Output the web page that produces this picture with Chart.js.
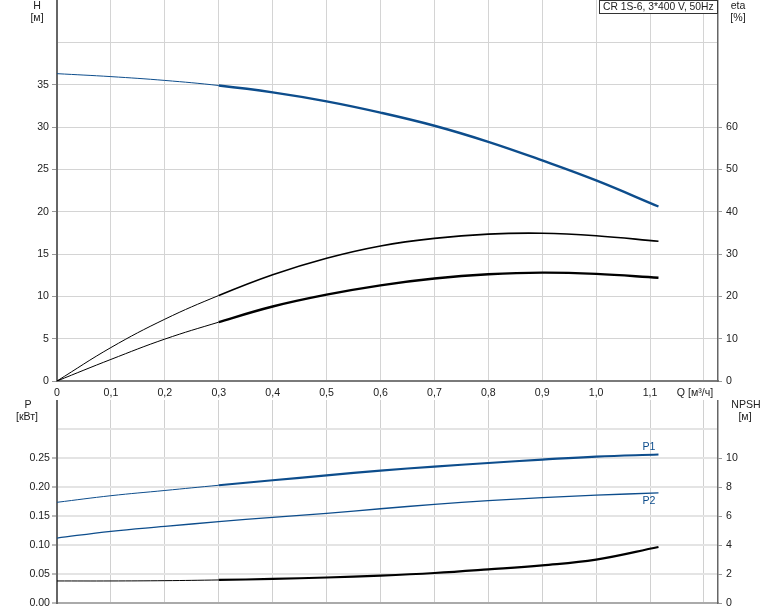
<!DOCTYPE html>
<html><head><meta charset="utf-8">
<script src="https://cdn.jsdelivr.net/npm/chart.js@4.4.1/dist/chart.umd.min.js"></script>
<style>
html,body{margin:0;padding:0;background:#fff;}
#wrap{position:relative;width:774px;height:611px;overflow:hidden;background:#fff;}
#c1{position:absolute;left:0;top:0;}
#c2{position:absolute;left:0;top:400px;}
</style></head><body>
<div id="wrap"><canvas id="c1" width="774" height="400"></canvas><canvas id="c2" width="774" height="211"></canvas></div>
<script>
// ---- data ----
const Q      = [0, 0.1, 0.2, 0.3, 0.4, 0.5, 0.6, 0.7, 0.8, 0.9, 1.0, 1.1156];
const H      = [36.3, 35.95, 35.5, 34.9, 34.09, 33.03, 31.7, 30.15, 28.25, 26.05, 23.69, 20.61];
const ETA    = [0, 7.9, 14.6, 20.2, 25.1, 29.0, 31.9, 33.7, 34.7, 34.9, 34.3, 33.0];
const ETA_T  = [0, 5.1, 9.9, 13.9, 17.6, 20.4, 22.6, 24.2, 25.2, 25.6, 25.3, 24.4];
const P1     = [0.1736, 0.185, 0.194, 0.203, 0.2116, 0.2200, 0.2283, 0.2352, 0.2414, 0.2472, 0.2524, 0.256];
const P2     = [0.112, 0.1236, 0.132, 0.1403, 0.1478, 0.1547, 0.1625, 0.1700, 0.1765, 0.1817, 0.186, 0.1897];
const NPSH   = [1.52, 1.52, 1.54, 1.59, 1.66, 1.76, 1.89, 2.07, 2.32, 2.6, 2.99, 3.86];
const Q_TICKS_MAX_LABEL = 1.1;
const H_LABEL_MAX = 35, ETA_LABEL_MAX = 60, P_LABEL_MAX = 0.25, NPSH_LABEL_MAX = 10;
const TITLE = 'CR 1S-6, 3*400 V, 50Hz';

const FONT = "'Liberation Sans', Arial, sans-serif";
Chart.defaults.font.family = FONT;
Chart.defaults.font.size = 10.6;
Chart.defaults.color = '#222';

const BLUE = '#0d4d8c';
const pts = arr => Q.map((q, i) => ({x: q, y: arr[i]}));
const seg = (thin, thick) => ({ borderWidth: c => c.p0.parsed.x < 0.299 ? thin : thick });
const fixW = w => s => { s.width = w; s.paddingTop = 0; s.paddingBottom = 0; };
const fixH = h => s => { s.height = h; s.paddingLeft = 0; s.paddingRight = 0; };
const qLabel = v => {
  if (Math.abs(v) < 1e-9) return '0';
  if (v > Q_TICKS_MAX_LABEL + 1e-6) return '';
  return v.toFixed(1).replace('.', ',');
};
const line = (data, color, axis, thin, thick) => ({
  data, borderColor: color, yAxisID: axis, pointRadius: 0, borderWidth: thick,
  tension: 0.4, fill: false, segment: seg(thin, thick)
});

function textPlugin(items) {
  return {
    id: 'texts',
    afterDraw(chart) {
      const ctx = chart.ctx;
      ctx.save();
      ctx.textBaseline = 'middle';
      for (const t of items) {
        if (t.box) {
          ctx.fillStyle = '#fff';
          ctx.fillRect(t.box[0], t.box[1], t.box[2], t.box[3]);
          ctx.strokeStyle = '#333';
          ctx.lineWidth = 1;
          ctx.strokeRect(t.box[0] + 0.5, t.box[1] + 0.5, t.box[2] - 1, t.box[3] - 1);
        }
        ctx.font = (t.size || 10.6) + 'px ' + FONT;
        ctx.fillStyle = t.color || '#222';
        ctx.textAlign = t.align || 'center';
        ctx.fillText(t.text, t.x, t.y);
      }
      ctx.restore();
    }
  };
}

const hide = (limit) => c => (c.tick && c.tick.value > limit + 1e-9) ? 'rgba(0,0,0,0)' : '#999';

new Chart(document.getElementById('c1'), {
  type: 'line',
  data: { datasets: [
    line(pts(H), BLUE, 'y', 1, 2.4),
    line(pts(ETA), '#000', 'y2', 1, 1.6),
    line(pts(ETA_T), '#000', 'y2', 1, 2.4)
  ]},
  options: {
    responsive: false, animation: false, devicePixelRatio: 1,
    layout: { padding: 0 },
    plugins: { legend: { display: false }, tooltip: { enabled: false } },
    scales: {
      x: { type: 'linear', min: 0, max: 1.226,
        ticks: { stepSize: 0.1, includeBounds: false, autoSkip: false, maxRotation: 0, padding: 6, callback: qLabel, color: '#222' },
        grid: { color: '#d4d4d4', drawTicks: false },
        border: { color: '#7a7a7a', width: 2 },
        afterFit: fixH(19) },
      y: { position: 'left', min: 0, max: 45,
        ticks: { stepSize: 5, includeBounds: false, padding: 3, color: '#222', callback: v => v <= H_LABEL_MAX ? String(v) : '' },
        grid: { color: c => c.tick && c.tick.value >= 45 ? 'rgba(0,0,0,0)' : '#d4d4d4', tickLength: 5, tickColor: hide(H_LABEL_MAX) },
        border: { color: '#666', width: 2 },
        afterFit: fixW(57) },
      y2: { position: 'right', min: 0, max: 90,
        ticks: { stepSize: 10, includeBounds: false, padding: 4, color: '#222', callback: v => v <= ETA_LABEL_MAX ? String(v) : '' },
        grid: { drawOnChartArea: false, tickLength: 4, tickColor: hide(ETA_LABEL_MAX) },
        border: { color: '#666', width: 1.5 },
        afterFit: fixW(56) }
    }
  },
  plugins: [textPlugin([
    { text: 'H', x: 37, y: 6 },
    { text: '[м]', x: 37, y: 18 },
    { text: 'eta', x: 738, y: 6 },
    { text: '[%]', x: 738, y: 18 },
    { text: 'Q [м³/ч]', x: 695, y: 393 },
    { text: TITLE, x: 603, y: 7, align: 'left', size: 10.3, box: [599, 0, 119, 14] }
  ])]
});

new Chart(document.getElementById('c2'), {
  type: 'line',
  data: { datasets: [
    line(pts(P1), BLUE, 'y', 1, 2.2),
    line(pts(P2), BLUE, 'y', 1.3, 1.3),
    line(pts(NPSH), '#000', 'y2', 1, 2.2)
  ]},
  options: {
    responsive: false, animation: false, devicePixelRatio: 1,
    layout: { padding: 0 },
    plugins: { legend: { display: false }, tooltip: { enabled: false } },
    scales: {
      x: { type: 'linear', min: 0, max: 1.226,
        ticks: { stepSize: 0.1, includeBounds: false, display: false },
        grid: { color: '#d0d0d0', drawTicks: false },
        border: { color: '#aaa', width: 2 },
        afterFit: fixH(8) },
      y: { position: 'left', min: 0, max: 0.35,
        ticks: { stepSize: 0.05, includeBounds: false, padding: 2, color: '#222', callback: v => v <= P_LABEL_MAX + 1e-9 ? v.toFixed(2) : '' },
        grid: { color: c => c.tick && c.tick.value > 0.33 ? 'rgba(0,0,0,0)' : '#e4e4e4', lineWidth: 2, tickLength: 5, tickColor: c => (c.tick && c.tick.value > P_LABEL_MAX + 1e-9) ? 'rgba(0,0,0,0)' : '#bbb' },
        border: { color: '#666', width: 2 },
        afterFit: fixW(57) },
      y2: { position: 'right', min: 0, max: 14,
        ticks: { stepSize: 2, includeBounds: false, padding: 4, color: '#222', callback: v => v <= NPSH_LABEL_MAX ? String(v) : '' },
        grid: { drawOnChartArea: false, tickLength: 4, tickColor: hide(NPSH_LABEL_MAX) },
        border: { color: '#666', width: 1.5 },
        afterFit: fixW(56) }
    }
  },
  plugins: [textPlugin([
    { text: 'P', x: 28, y: 5 },
    { text: '[кВт]', x: 27, y: 17 },
    { text: 'NPSH', x: 746, y: 5 },
    { text: '[м]', x: 745, y: 17 },
    { text: 'P1', x: 649, y: 47, color: BLUE },
    { text: 'P2', x: 649, y: 101, color: BLUE }
  ])]
});
</script>
</body></html>
